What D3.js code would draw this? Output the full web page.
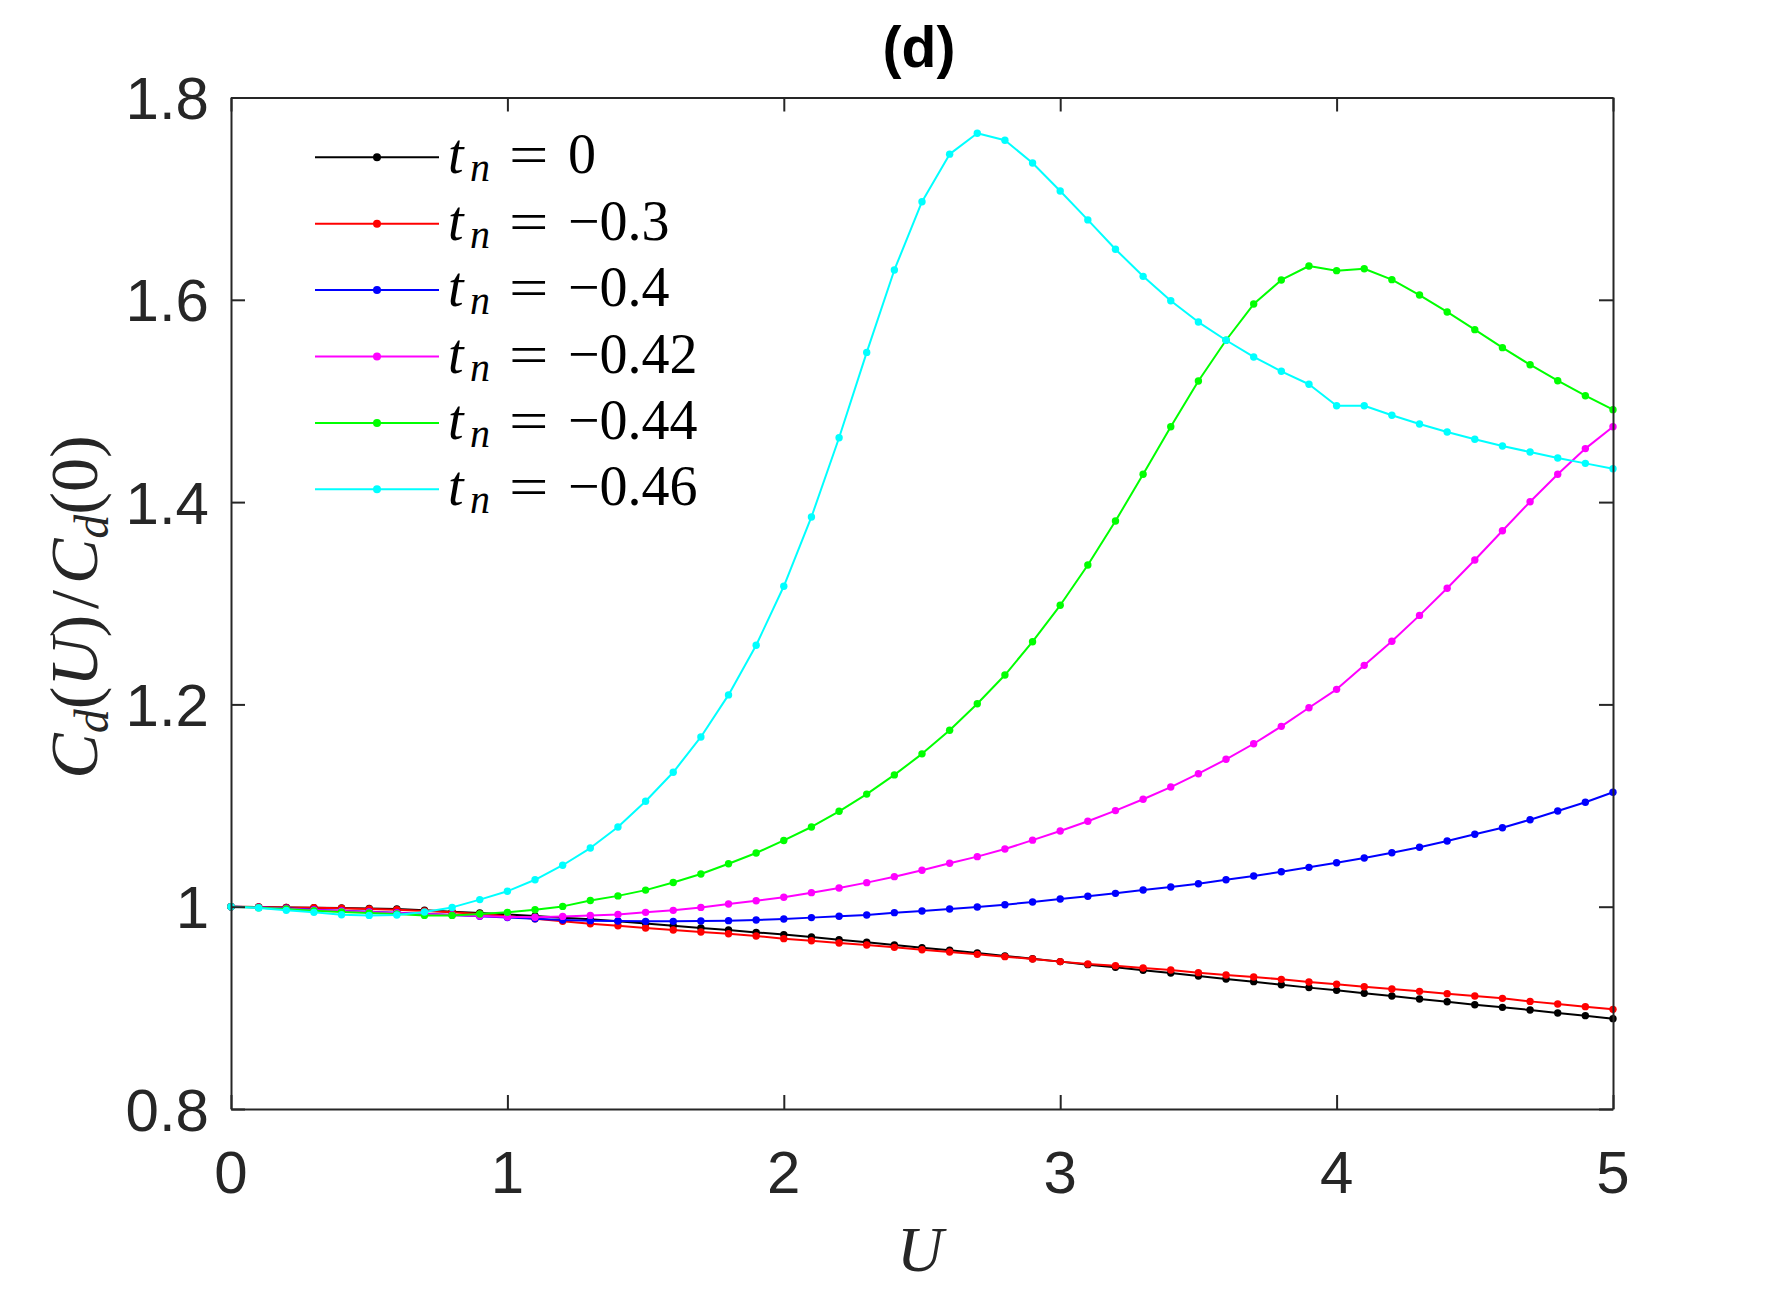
<!DOCTYPE html>
<html>
<head>
<meta charset="utf-8">
<script src="https://cdn.jsdelivr.net/npm/d3@7"></script>
<style>
  html, body { margin: 0; padding: 0; background: #ffffff; }
  svg { display: block; }
</style>
</head>
<body>
<svg id="chart" width="1782" height="1291"></svg>
<script>
// ---------------- DATA ----------------
const U = [0.0,0.1,0.2,0.3,0.4,0.5,0.6,0.7,0.8,0.9,
           1.0,1.1,1.2,1.3,1.4,1.5,1.6,1.7,1.8,1.9,
           2.0,2.1,2.2,2.3,2.4,2.5,2.6,2.7,2.8,2.9,
           3.0,3.1,3.2,3.3,3.4,3.5,3.6,3.7,3.8,3.9,
           4.0,4.1,4.2,4.3,4.4,4.5,4.6,4.7,4.8,4.9,5.0];

const tn0 = [1.0000,0.9997,0.9993,0.9990,0.9987,0.9983,0.9977,0.9966,0.9951,0.9937,
             0.9924,0.9908,0.9891,0.9875,0.9855,0.9834,0.9812,0.9789,0.9769,0.9746,
             0.9724,0.9700,0.9674,0.9648,0.9621,0.9595,0.9569,0.9542,0.9513,0.9486,
             0.9457,0.9427,0.9401,0.9371,0.9345,0.9315,0.9285,0.9259,0.9229,0.9200,
             0.9173,0.9144,0.9117,0.9088,0.9061,0.9031,0.9005,0.8979,0.8949,0.8923,0.8893];

const tn03 = [1.0000,0.9997,0.9993,0.9990,0.9984,0.9977,0.9970,0.9957,0.9944,0.9928,
              0.9906,0.9880,0.9856,0.9832,0.9812,0.9789,0.9769,0.9750,0.9733,0.9710,
              0.9684,0.9664,0.9641,0.9621,0.9598,0.9575,0.9552,0.9529,0.9506,0.9483,
              0.9457,0.9434,0.9417,0.9394,0.9374,0.9348,0.9325,0.9305,0.9282,0.9256,
              0.9233,0.9209,0.9186,0.9163,0.9140,0.9117,0.9094,0.9064,0.9038,0.9012,0.8985];

const tn04 = [1.0000,0.9993,0.9984,0.9971,0.9960,0.9951,0.9941,0.9931,0.9918,0.9906,
              0.9893,0.9880,0.9869,0.9862,0.9858,0.9855,0.9855,0.9858,0.9862,0.9868,
              0.9878,0.9892,0.9905,0.9918,0.9941,0.9957,0.9977,0.9997,1.0020,1.0047,
              1.0076,1.0103,1.0132,1.0165,1.0195,1.0227,1.0267,1.0303,1.0346,1.0389,
              1.0435,1.0481,1.0534,1.0587,1.0650,1.0716,1.0781,1.0860,1.0946,1.1032,1.1131];

const tn042 = [1.0000,0.9993,0.9980,0.9967,0.9957,0.9947,0.9937,0.9928,0.9918,0.9908,
               0.9898,0.9895,0.9904,0.9914,0.9924,0.9944,0.9964,0.9993,1.0026,1.0059,
               1.0093,1.0139,1.0185,1.0238,1.0297,1.0360,1.0429,1.0495,1.0570,1.0658,
               1.0749,1.0845,1.0950,1.1062,1.1183,1.1315,1.1457,1.1611,1.1783,1.1967,
               1.2149,1.2386,1.2624,1.2880,1.3148,1.3428,1.3717,1.4004,1.4275,1.4529,1.4745];

const tn044 = [1.0000,0.9990,0.9977,0.9960,0.9947,0.9937,0.9928,0.9914,0.9914,0.9928,
               0.9944,0.9970,1.0003,1.0062,1.0107,1.0164,1.0239,1.0323,1.0425,1.0531,
               1.0655,1.0788,1.0943,1.1113,1.1303,1.1511,1.1745,1.2007,1.2290,1.2620,
               1.2980,1.3378,1.3813,1.4275,1.4745,1.5197,1.5600,1.5958,1.6196,1.6334,
               1.6288,1.6307,1.6199,1.6047,1.5880,1.5705,1.5527,1.5358,1.5200,1.5052,1.4914];

const tn046 = [1.0000,0.9988,0.9964,0.9944,0.9921,0.9914,0.9918,0.9947,0.9993,1.0070,
               1.0153,1.0266,1.0410,1.0580,1.0788,1.1042,1.1329,1.1678,1.2094,1.2585,
               1.3168,1.3853,1.4636,1.5480,1.6295,1.6970,1.7440,1.7646,1.7577,1.7353,
               1.7076,1.6790,1.6500,1.6232,1.5991,1.5780,1.5600,1.5435,1.5293,1.5165,
               1.4953,1.4953,1.4858,1.4772,1.4693,1.4621,1.4555,1.4495,1.4436,1.4383,1.4330];

const seriesValues = [tn0, tn03, tn04, tn042, tn044, tn046];
const seriesLabels = ["0", "\u22120.3", "\u22120.4", "\u22120.42", "\u22120.44", "\u22120.46"];
const seriesColors = ["#000000", "#ff0000", "#0000ff", "#ff00ff", "#00ff00", "#00ffff"];

const xTicks = [0, 1, 2, 3, 4, 5];
const yTicks = [0.8, 1.0, 1.2, 1.4, 1.6, 1.8];
const yTickLabels = ["0.8", "1", "1.2", "1.4", "1.6", "1.8"];
const xTickLabels = ["0", "1", "2", "3", "4", "5"];

(function () {
// ---------------- LAYOUT ----------------
const svg = d3.select("#chart");
const pL = 231, pR = 1613, pT = 97.5, pB = 1109;
const axisColor = "#262626";

svg.append("rect").attr("width", 1782).attr("height", 1291).attr("fill", "#ffffff");

const x = d3.scaleLinear().domain([0, 5]).range([pL, pR]);
const y = d3.scaleLinear().domain([0.8, 1.8]).range([pB, pT]);

const tickLen = 14;

// ---------------- SERIES ----------------
const line = d3.line().x((d, i) => x(U[i])).y(d => y(d));
const plot = svg.append("g");
seriesValues.forEach((vals, s) => {
  const g = plot.append("g");
  g.append("path").datum(vals)
    .attr("d", line).attr("fill", "none")
    .attr("stroke", seriesColors[s]).attr("stroke-width", 2)
    .attr("stroke-linejoin", "round");
  g.selectAll("circle").data(vals).join("circle")
    .attr("cx", (d, i) => x(U[i])).attr("cy", d => y(d))
    .attr("r", 3.7).attr("fill", seriesColors[s]);
});

// axes (box with inward ticks on all four sides)
const gB = svg.append("g").attr("transform", `translate(0,${pB})`)
  .call(d3.axisBottom(x).tickValues(xTicks).tickSizeInner(-tickLen).tickSizeOuter(0).tickFormat(""));
const gT = svg.append("g").attr("transform", `translate(0,${pT})`)
  .call(d3.axisTop(x).tickValues(xTicks).tickSizeInner(-tickLen).tickSizeOuter(0).tickFormat(""));
const gL = svg.append("g").attr("transform", `translate(${pL},0)`)
  .call(d3.axisLeft(y).tickValues(yTicks).tickSizeInner(-tickLen).tickSizeOuter(0).tickFormat(""));
const gR = svg.append("g").attr("transform", `translate(${pR},0)`)
  .call(d3.axisRight(y).tickValues(yTicks).tickSizeInner(-tickLen).tickSizeOuter(0).tickFormat(""));
[gB, gT, gL, gR].forEach(g => {
  g.selectAll("path.domain").attr("stroke", axisColor).attr("stroke-width", 2);
  g.selectAll(".tick line").attr("stroke", axisColor).attr("stroke-width", 2);
});

// tick labels
svg.append("g").selectAll("text").data(xTicks).join("text")
  .attr("x", d => x(d)).attr("y", 1193)
  .attr("text-anchor", "middle")
  .attr("font-family", "'Liberation Sans', Arial, Helvetica, sans-serif")
  .attr("font-size", 60).attr("fill", axisColor)
  .text((d, i) => xTickLabels[i]);

svg.append("g").selectAll("text").data(yTicks).join("text")
  .attr("x", pL - 22).attr("y", d => y(d) + 21.5)
  .attr("text-anchor", "end")
  .attr("font-family", "'Liberation Sans', Arial, Helvetica, sans-serif")
  .attr("font-size", 60).attr("fill", axisColor)
  .text((d, i) => yTickLabels[i]);

// title
svg.append("text").attr("x", 919).attr("y", 67)
  .attr("text-anchor", "middle")
  .attr("font-family", "'Liberation Sans', Arial, Helvetica, sans-serif")
  .attr("font-weight", "bold").attr("font-size", 57).attr("fill", "#000")
  .text("(d)");

// x label
svg.append("text").attr("x", 920).attr("y", 1271)
  .attr("text-anchor", "middle")
  .attr("font-family", "'Liberation Serif', 'Times New Roman', serif")
  .attr("font-style", "italic").attr("font-size", 64).attr("fill", axisColor)
  .text("U");

// y label  C_d(U)/C_d(0)
const yl = svg.append("text")
  .attr("transform", "translate(97,607) rotate(-90)")
  .attr("text-anchor", "middle")
  .attr("font-family", "'Liberation Serif', 'Times New Roman', serif")
  .attr("font-size", 68).attr("fill", axisColor);
yl.append("tspan").attr("font-style", "italic").text("C");
yl.append("tspan").attr("font-style", "italic").attr("font-size", 48).attr("dy", 11).text("d");
yl.append("tspan").attr("dy", -11).text("(");
yl.append("tspan").attr("font-style", "italic").text("U");
yl.append("tspan").text(")");
yl.append("tspan").attr("dx", 6).text("/");
yl.append("tspan").attr("dx", 6).attr("font-style", "italic").text("C");
yl.append("tspan").attr("font-style", "italic").attr("font-size", 48).attr("dy", 11).text("d");
yl.append("tspan").attr("dy", -11).text("(0)");

// ---------------- LEGEND ----------------
const legY0 = 157.3, legDy = 66.4;
const leg = svg.append("g");
const serif = "'Liberation Serif', 'Times New Roman', serif";
seriesLabels.forEach((lab, s) => {
  const ly = legY0 + s * legDy;
  const base = ly + 16;
  leg.append("line").attr("x1", 315).attr("x2", 439).attr("y1", ly).attr("y2", ly)
    .attr("stroke", seriesColors[s]).attr("stroke-width", 2);
  leg.append("circle").attr("cx", 377).attr("cy", ly).attr("r", 4).attr("fill", seriesColors[s]);
  // t_n
  const t = leg.append("text").attr("x", 448).attr("y", base)
    .attr("font-family", serif).attr("font-size", 56).attr("fill", "#000");
  t.append("tspan").attr("font-style", "italic").text("t");
  t.append("tspan").attr("x", 470).attr("dy", 8).attr("font-style", "italic").attr("font-size", 40).text("n");
  // equals sign (widened like the TeX glyph)
  leg.append("text")
    .attr("transform", `translate(509,${base + 1}) scale(1.25,1)`)
    .attr("font-family", serif).attr("font-size", 56).attr("fill", "#000")
    .text("=");
  // value
  leg.append("text").attr("x", 568).attr("y", base)
    .attr("font-family", serif).attr("font-size", 56).attr("fill", "#000")
    .text(lab);
});
})();
</script>
</body>
</html>
